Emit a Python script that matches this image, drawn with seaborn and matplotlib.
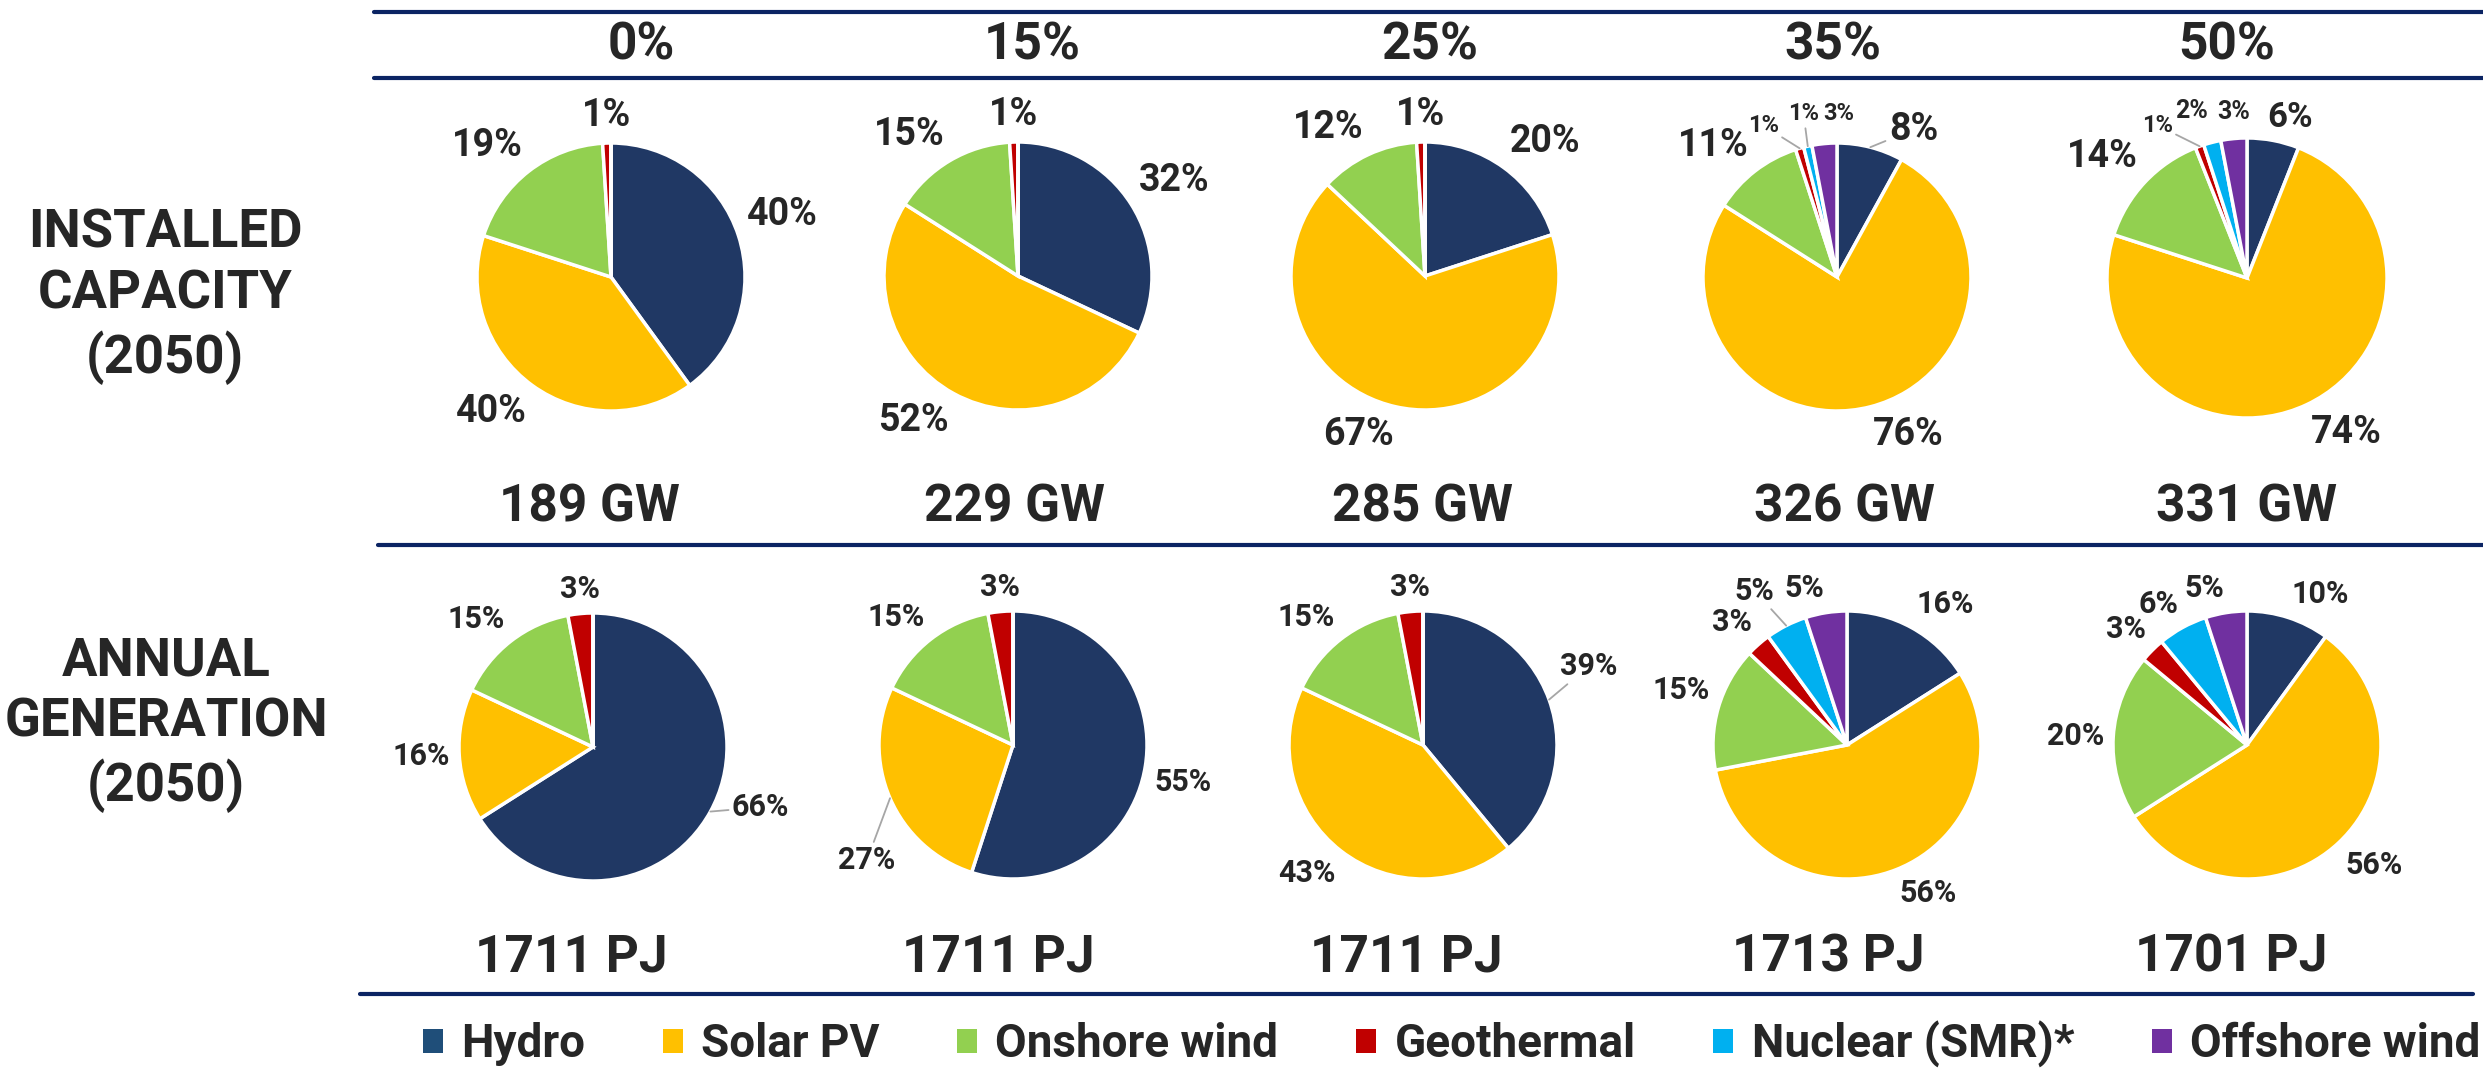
import numpy as np
import pandas as pd
import matplotlib
matplotlib.use("Agg")
import matplotlib.pyplot as plt
from matplotlib.lines import Line2D
from matplotlib.patches import Patch
import seaborn as sns

# DATA
technologies = ["Hydro", "Solar PV", "Onshore wind", "Geothermal", "Nuclear (SMR)*", "Offshore wind"]
scenarios = ["0%", "15%", "25%", "35%", "50%"]

# installed capacity 2050, share in %
cap_hydro = [40, 32, 20, 8, 6]
cap_solar = [40, 52, 67, 76, 74]
cap_onshore = [19, 15, 12, 11, 14]
cap_geo = [1, 1, 1, 1, 1]
cap_nuclear = [0, 0, 0, 1, 2]
cap_offshore = [0, 0, 0, 3, 3]
cap_total_gw = [189, 229, 285, 326, 331]

# annual generation 2050, share in %
gen_hydro = [66, 55, 39, 16, 10]
gen_solar = [16, 27, 43, 56, 56]
gen_onshore = [15, 15, 15, 15, 20]
gen_geo = [3, 3, 3, 3, 3]
gen_nuclear = [0, 0, 0, 5, 6]
gen_offshore = [0, 0, 0, 5, 5]
gen_total_pj = [1711, 1711, 1711, 1713, 1701]

colors = ["#203864", "#FFC000", "#92D050", "#C00000", "#00B0F0", "#7030A0"]

# long table
rows = []
for metric, series in [("cap", [cap_hydro, cap_solar, cap_onshore, cap_geo, cap_nuclear, cap_offshore]),
                       ("gen", [gen_hydro, gen_solar, gen_onshore, gen_geo, gen_nuclear, gen_offshore])]:
    for tech, vals in zip(technologies, series):
        for sc, v in zip(scenarios, vals):
            rows.append({"metric": metric, "tech": tech, "scenario": sc, "share": v})
df = pd.DataFrame(rows)

# STYLE
sns.set_theme(style="white")
plt.rcParams["font.family"] = ["Roboto", "DejaVu Sans"]
plt.rcParams["font.weight"] = "bold"

W, H = 2483, 1074
fig = plt.figure(figsize=(W / 100, H / 100), dpi=100)
fig.patch.set_facecolor("white")

def fx(x):
    return x / W

def fy(y):
    return 1 - y / H

navy = "#0B2463"
for y, x0, x1 in [(12, 374, 2483), (78, 374, 2483), (545, 378, 2483), (994, 360, 2473)]:
    fig.add_artist(Line2D([fx(x0), fx(x1)], [fy(y), fy(y)], transform=fig.transFigure,
                          color=navy, lw=3))

# layout of the pies (pixel centres)
unit = 134
top_centres = [(611, 277), (1018, 276), (1425, 276), (1837, 277), (2247, 278)]
bot_centres = [(593, 747), (1013, 745), (1423, 745), (1847, 745), (2247, 745)]
top_radius = [1.0, 1.0, 1.0, 1.0, 1.045]

# labels that were moved by hand: centre position, size, leader line
overrides = {
    ("cap", 3, "Hydro"): dict(pos=(0.57, 1.10), leader=True),
    ("cap", 3, "Geothermal"): dict(pos=(-0.55, 1.13), size=17, leader=True),
    ("cap", 3, "Nuclear (SMR)*"): dict(pos=(-0.25, 1.22), size=17, leader=True),
    ("cap", 3, "Offshore wind"): dict(pos=(0.01, 1.22), size=17),
    ("cap", 4, "Hydro"): dict(pos=(0.32, 1.20), size=25),
    ("cap", 4, "Geothermal"): dict(pos=(-0.67, 1.14), size=17, leader=True),
    ("cap", 4, "Nuclear (SMR)*"): dict(pos=(-0.41, 1.25), size=18),
    ("cap", 4, "Offshore wind"): dict(pos=(-0.10, 1.24), size=18),
    ("gen", 0, "Hydro"): dict(pos=(1.25, -0.45), leader=True),
    ("gen", 1, "Solar PV"): dict(pos=(-1.09, -0.86), leader=True),
    ("gen", 2, "Hydro"): dict(pos=(1.24, 0.59), leader=True),
    ("gen", 3, "Nuclear (SMR)*"): dict(pos=(-0.69, 1.15), leader=True),
}


def draw_pie(metric, i, centre, radius, fsize):
    cx, cy = centre
    half = 1.6 * unit
    ax = fig.add_axes([fx(cx - half), fy(cy + half), 2 * half / W, 2 * half / H])
    sub = df[(df["metric"] == metric) & (df["scenario"] == scenarios[i])]
    vals = sub["share"].to_numpy()
    wedges, _ = ax.pie(vals, colors=colors, startangle=90, counterclock=False, radius=radius,
                       wedgeprops=dict(edgecolor="white", linewidth=2.5))
    for w, tech, v in zip(wedges, sub["tech"], vals):
        if v <= 0:
            continue
        ang = np.deg2rad((w.theta1 + w.theta2) / 2)
        dx, dy = np.cos(ang), np.sin(ang)
        lab = f"{v:.0f}%"
        o = overrides.get((metric, i, tech))
        if o is not None:
            size = o.get("size", fsize)
            if o.get("leader"):
                ax.annotate(lab, xy=(dx * radius, dy * radius), xytext=o["pos"],
                            ha="center", va="center", fontsize=size, fontweight="bold",
                            arrowprops=dict(arrowstyle="-", color="#A6A6A6", lw=1.3,
                                            shrinkA=0, shrinkB=0))
            else:
                ax.text(*o["pos"], lab, ha="center", va="center", fontsize=size, fontweight="bold")
            continue
        ha = "left" if dx > 0.1 else ("right" if dx < -0.1 else "center")
        va = "bottom" if dy > 0.1 else ("top" if dy < -0.1 else "center")
        g = 1.07 * radius
        ax.text(dx * g, dy * g, lab, ha=ha, va=va, fontsize=fsize, fontweight="bold")
    ax.set_xlim(-1.6, 1.6)
    ax.set_ylim(-1.6, 1.6)
    ax.set_aspect("equal")
    ax.axis("off")


for i in range(len(scenarios)):
    draw_pie("cap", i, top_centres[i], top_radius[i], 27)
    draw_pie("gen", i, bot_centres[i], 1.0, 22)

# column headers and totals
header_x = [641, 1032, 1430, 1833, 2227]
gw_x = [589, 1015, 1422, 1844, 2247]
pj_x = [571, 998, 1406, 1828, 2231]
for i, sc in enumerate(scenarios):
    fig.text(fx(header_x[i]), fy(46), sc, ha="center", va="center", fontsize=37, fontweight="bold")
    fig.text(fx(gw_x[i]), fy(507), f"{cap_total_gw[i]} GW", ha="center", va="center",
             fontsize=37, fontweight="bold")
    fig.text(fx(pj_x[i]), fy(957), f"{gen_total_pj[i]} PJ", ha="center", va="center",
             fontsize=37, fontweight="bold")

# row titles
fig.text(fx(165), fy(296), "INSTALLED\nCAPACITY\n(2050)", ha="center", va="center",
         fontsize=38, fontweight="bold", linespacing=1.25)
fig.text(fx(166), fy(724), "ANNUAL\nGENERATION\n(2050)", ha="center", va="center",
         fontsize=38, fontweight="bold", linespacing=1.25)

# legend
legend_colors = ["#1F4E79"] + colors[1:]
handles = [Patch(facecolor=c, edgecolor="none") for c in legend_colors]
fig.legend(handles, technologies, loc="center left", bbox_to_anchor=(fx(423), fy(1044)),
           ncol=6, frameon=False, handlelength=0.43, handleheight=0.43,
           handletextpad=0.4, columnspacing=1.7, borderpad=0, borderaxespad=0,
           prop=dict(weight="bold", size=33))

fig.savefig("out.png", dpi=100, facecolor="white")
